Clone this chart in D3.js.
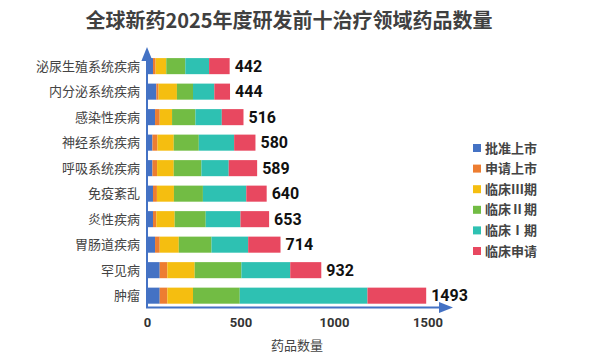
<!DOCTYPE html>
<html><head><meta charset="utf-8">
<script src="https://cdn.jsdelivr.net/npm/d3@7"></script>
<style>body{margin:0;background:#fff}svg{display:block;font-family:"Noto Sans CJK SC","Noto Sans",sans-serif}</style>
</head><body><svg id="c" width="607" height="359"></svg>
<script>
const categories = ["泌尿生殖系统疾病","内分泌系统疾病","感染性疾病","神经系统疾病","呼吸系统疾病","免疫紊乱","炎性疾病","胃肠道疾病","罕见病","肿瘤"];
const seriesNames = ["批准上市","申请上市","临床Ⅲ期","临床Ⅱ期","临床Ⅰ期","临床申请"];
const approved   = [32, 50, 43, 29, 29, 32, 32, 43, 68, 68];
const filed      = [14, 12, 25, 27, 25, 21, 18, 25, 41, 41];
const phase3     = [57, 98, 66, 87, 89, 91, 98, 102, 146, 137];
const phase2     = [102, 86, 125, 134, 148, 155, 166, 175, 250, 250];
const phase1     = [127, 114, 141, 189, 146, 232, 186, 196, 261, 683];
const clinicalApp= [110, 84, 116, 114, 152, 109, 153, 173, 166, 314];
const totals     = [442, 444, 516, 580, 589, 640, 653, 714, 932, 1493];
const xTicks = [0, 500, 1000, 1500];
const colors = ["#4472C4","#ED7D31","#F5BE10","#72BC44","#2EC1B2","#E84860"];

const seriesData = [approved, filed, phase3, phase2, phase1, clinicalApp];
const rows = categories.map((c,i)=>{const o={cat:c,total:totals[i]};seriesNames.forEach((s,j)=>o[s]=seriesData[j][i]);return o;});
const stacked = d3.stack().keys(seriesNames)(rows);

const svg = d3.select("#c");
const x = d3.scaleLinear().domain([0,1500]).range([147,427.5]);
const y = d3.scaleBand().domain(categories).range([53,308.8]).paddingInner(0.37).paddingOuter(0.2);

svg.append("text").attr("x",289).attr("y",28).attr("text-anchor","middle")
  .attr("font-size",20).attr("font-weight","bold").attr("fill","#404040")
  .text("全球新药2025年度研发前十治疗领域药品数量");

svg.append("g").selectAll("g").data(stacked).join("g").attr("fill",(d,i)=>colors[i])
  .selectAll("rect").data(d=>d).join("rect")
  .attr("x",d=>x(d[0])).attr("width",d=>x(d[1])-x(d[0]))
  .attr("y",d=>y(d.data.cat)).attr("height",y.bandwidth());

// category labels
svg.append("g").selectAll("text").data(categories).join("text")
  .attr("x",140).attr("y",d=>y(d)+y.bandwidth()/2).attr("dy","0.36em")
  .attr("text-anchor","end").attr("font-size",13).attr("fill","#444").text(d=>d);

// totals
svg.append("g").selectAll("text").data(rows).join("text")
  .attr("x",d=>x(d.total)+5).attr("y",d=>y(d.cat)+y.bandwidth()/2).attr("dy","0.36em")
  .attr("font-size",16).attr("font-weight","bold").attr("fill","#111")
  .attr("font-family","Roboto, 'Noto Sans', sans-serif").text(d=>d.total);

// axes
const axisColor = "#4472C4";
const defs = svg.append("defs");
defs.append("marker").attr("id","arr").attr("viewBox","0 0 10 10").attr("refX",5).attr("refY",5)
  .attr("markerWidth",7).attr("markerHeight",7).attr("orient","auto")
  .append("path").attr("d","M0,1 L10,5 L0,9 Z").attr("fill",axisColor);
svg.append("line").attr("x1",x(0)).attr("x2",x(0)).attr("y1",308).attr("y2",54)
  .attr("stroke",axisColor).attr("stroke-width",2).attr("marker-end","url(#arr)");
svg.append("line").attr("x1",x(0)-1).attr("x2",446).attr("y1",307.5).attr("y2",307.5)
  .attr("stroke",axisColor).attr("stroke-width",2).attr("marker-end","url(#arr)");

const xAxis = svg.append("g").attr("transform","translate(0,308)")
  .call(d3.axisBottom(x).tickValues(xTicks).tickSize(0).tickPadding(10).tickFormat(d3.format("d")));
xAxis.select(".domain").remove();
xAxis.selectAll("text").attr("font-size",13).attr("font-weight","bold").attr("fill","#333")
  .attr("font-family","Roboto, 'Noto Sans', sans-serif");

svg.append("text").attr("x",297).attr("y",350).attr("text-anchor","middle")
  .attr("font-size",13).attr("fill","#444").text("药品数量");

// legend
const lg = svg.append("g").selectAll("g").data(seriesNames).join("g")
  .attr("transform",(d,i)=>`translate(473,${148+i*20.6})`);
lg.append("rect").attr("x",0).attr("y",-4).attr("width",8).attr("height",8).attr("fill",(d,i)=>colors[i]);
lg.append("text").attr("x",12).attr("dy","0.36em").attr("font-size",13).attr("font-weight","bold").attr("fill","#444").text(d=>d);
</script></body></html>
